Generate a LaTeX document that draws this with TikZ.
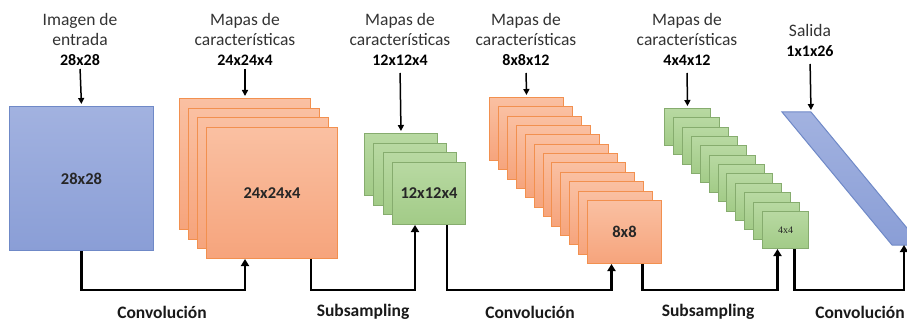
\documentclass[tikz,border=0pt]{standalone}
\usepackage{fontspec}
\setmainfont{Carlito}
\newfontfamily\smallserif{Liberation Serif}
\usetikzlibrary{arrows.meta}

\definecolor{blueline}{HTML}{6F89C7}
\definecolor{bluetop}{HTML}{A2B2E0}
\definecolor{bluebot}{HTML}{8A9ED6}
\definecolor{orangeline}{HTML}{F2904F}
\definecolor{orangetop}{HTML}{FAC0A2}
\definecolor{orangebot}{HTML}{F6A47C}
\definecolor{greenline}{HTML}{86AC6E}
\definecolor{greentop}{HTML}{B8D9A2}
\definecolor{greenbot}{HTML}{A2CB87}

\tikzset{
	bluefill/.style={draw=blueline, line width=1pt, top color=bluetop, bottom color=bluebot},
	orangefill/.style={draw=orangeline, line width=1pt, top color=orangetop, bottom color=orangebot},
	greenfill/.style={draw=greenline, line width=1pt, top color=greentop, bottom color=greenbot},
	layer/.style={anchor=north west, inner sep=0pt, text=black!85,
		font=\fontsize{16.5}{18}\bfseries},
	inmap/.style={layer, bluefill, minimum width=144pt, minimum height=144pt},
	convbig/.style={layer, orangefill, minimum width=131pt, minimum height=131pt},
	subbig/.style={layer, greenfill, minimum width=73pt, minimum height=62pt},
	convsmall/.style={layer, orangefill, minimum width=74pt, minimum height=63pt},
	subsmall/.style={layer, greenfill, minimum width=46pt, minimum height=37pt},
	toplabel/.style={anchor=south, align=center, inner sep=1pt, text=black!80,
		font=\fontsize{17.5}{20}\selectfont},
	oplabel/.style={text=black!90, font=\fontsize{17.5}{20}\bfseries},
	feed/.style={line width=1.5pt, -{Triangle[length=6pt, width=6pt]}, shorten <=2pt, shorten >=2pt},
	conn/.style={line width=2.5pt, -{Triangle[length=7pt, width=8pt]}}
}
\newcommand{\dimtext}[1]{{\fontsize{16}{19}\bfseries\color{black} #1}}

\begin{document}
\begin{tikzpicture}[x=1pt, y=-1pt]
	\useasboundingbox (0,0) rectangle (907,323);

	% imagen de entrada
	\node [inmap] (entrada) at ( 9, 106 ) {28x28};

	% mapas 24x24x4
	\node [convbig] (c1a) at ( 179, 98.0 ) {};
	\node [convbig] (c1b) at ( 188, 107.7 ) {};
	\node [convbig] (c1c) at ( 197, 117.3 ) {};
	\node [convbig] (c1d) at ( 206, 127.0 ) {24x24x4};

	% mapas 12x12x4
	\node [subbig] (s1a) at ( 364.0, 133.0 ) {};
	\node [subbig] (s1b) at ( 373.3, 142.7 ) {};
	\node [subbig] (s1c) at ( 382.7, 152.3 ) {};
	\node [subbig] (s1d) at ( 392.0, 162.0 ) {12x12x4};

	% mapas 8x8x12
	\node [convsmall] (c2a) at ( 489.0, 97.0 ) {};
	\node [convsmall] (c2b) at ( 497.9, 106.4 ) {};
	\node [convsmall] (c2c) at ( 506.8, 115.7 ) {};
	\node [convsmall] (c2d) at ( 515.7, 125.1 ) {};
	\node [convsmall] (c2e) at ( 524.6, 134.5 ) {};
	\node [convsmall] (c2f) at ( 533.5, 143.8 ) {};
	\node [convsmall] (c2g) at ( 542.5, 153.2 ) {};
	\node [convsmall] (c2h) at ( 551.4, 162.5 ) {};
	\node [convsmall] (c2i) at ( 560.3, 171.9 ) {};
	\node [convsmall] (c2j) at ( 569.2, 181.3 ) {};
	\node [convsmall] (c2k) at ( 578.1, 190.6 ) {};
	\node [convsmall] (c2l) at ( 587.0, 200.0 ) {8x8};

	% mapas 4x4x12
	\node [subsmall] (s2a) at ( 664.0, 108.0 ) {};
	\node [subsmall] (s2b) at ( 672.9, 117.4 ) {};
	\node [subsmall] (s2c) at ( 681.8, 126.7 ) {};
	\node [subsmall] (s2d) at ( 690.7, 136.1 ) {};
	\node [subsmall] (s2e) at ( 699.6, 145.5 ) {};
	\node [subsmall] (s2f) at ( 708.5, 154.8 ) {};
	\node [subsmall] (s2g) at ( 717.5, 164.2 ) {};
	\node [subsmall] (s2h) at ( 726.4, 173.5 ) {};
	\node [subsmall] (s2i) at ( 735.3, 182.9 ) {};
	\node [subsmall] (s2j) at ( 744.2, 192.3 ) {};
	\node [subsmall] (s2k) at ( 753.1, 201.6 ) {};
	\node [subsmall] (s2l) at ( 762.0, 211.0 ) {\fontsize{10}{12}\smallserif\mdseries 4x4};

	% salida
	\coordinate (p1) at ( 782, 112 );
	\coordinate (p2) at ( 811, 112 );
	\coordinate (p3) at ( 921, 245 );
	\coordinate (p4) at ( 892, 245 );
	\draw [bluefill] (p1) -- (p2) -- (p3) -- (p4) -- cycle;
	\coordinate (out) at ( 904, 245 );

	% etiquetas superiores
	\node [toplabel] (l0) at ( 80, 67 ) {Imagen de\\entrada\\\dimtext{28x28}};
	\node [toplabel] (l1) at ( 245, 67 ) {Mapas de\\características\\\dimtext{24x24x4}};
	\node [toplabel] (l2) at ( 400, 67 ) {Mapas de\\características\\\dimtext{12x12x4}};
	\node [toplabel] (l3) at ( 526, 67 ) {Mapas de\\características\\\dimtext{8x8x12}};
	\node [toplabel] (l4) at ( 687, 67 ) {Mapas de\\características\\\dimtext{4x4x12}};
	\node [toplabel] (l5) at ( 810, 58 ) {Salida\\\dimtext{1x1x26}};

	\draw [feed] (l0.south) -- (entrada.north);
	\draw [feed] (l1.south) -- (c1a.north);
	\draw [feed, shorten <=6pt] (l2.south) -- (s1a.north);
	\draw [feed, shorten <=6pt] (l3.south) -- (c2a.north);
	\draw [feed, shorten <=6pt] (l4.south) -- (s2a.north);
	\draw [feed, shorten <=6pt] (l5.south) -- (p2);

	% operaciones
	\coordinate (base) at ( 0, 290 );
	\draw [conn] (entrada.south) |- (c1a.south |- base) -- (c1a.south |- c1d.south);
	\draw [conn] (c1a.south east |- c1d.south) |- ([xshift=-14pt]s1d.south |- base) -- ([xshift=-14pt]s1d.south);
	\draw [conn] ([xshift=18pt]s1d.south) |- ([xshift=-13pt]c2l.south |- base) -- ([xshift=-13pt]c2l.south);
	\draw [conn] ([xshift=18pt]c2l.south) |- ([xshift=-8pt]s2l.south |- base) -- ([xshift=-8pt]s2l.south);
	\draw [conn] ([xshift=9pt]s2l.south) |- (out |- base) -- (out);

	\node [oplabel] (op1) at ( 162, 312 ) {Convolución};
	\node [oplabel] (op2) at ( 363, 312 ) {Subsampling};
	\node [oplabel] (op3) at ( 530, 312 ) {Convolución};
	\node [oplabel] (op4) at ( 708, 312 ) {Subsampling};
	\node [oplabel] (op5) at ( 860, 312 ) {Convolución};
\end{tikzpicture}
\end{document}
